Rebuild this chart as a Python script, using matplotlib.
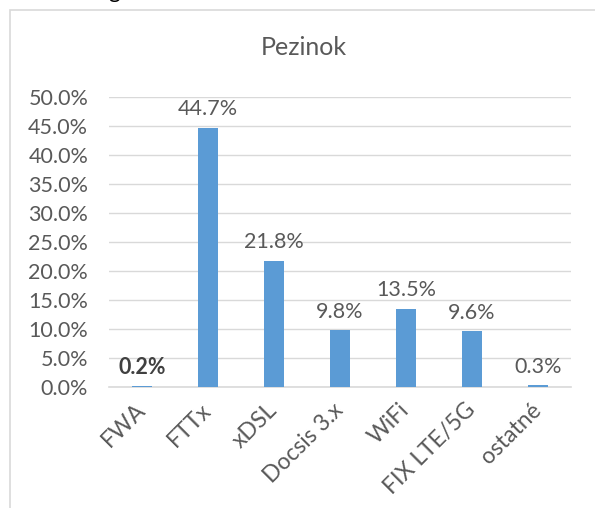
import numpy as np
import matplotlib.pyplot as plt
from matplotlib.patches import Rectangle
from matplotlib.ticker import PercentFormatter, MultipleLocator

plt.rcParams['font.family'] = ['Lato', 'DejaVu Sans']

categories = ['FWA', 'FTTx', 'xDSL', 'Docsis 3.x', 'WiFi', 'FIX LTE/5G', 'ostatné']
shares = [0.2, 44.7, 21.8, 9.8, 13.5, 9.6, 0.3]
labels = ['0.2%', '44.7%', '21.8%', '9.8%', '13.5%', '9.6%', '0.3%']
bold_label = [True, False, False, False, False, False, False]

grey = '#595959'
fig = plt.figure(figsize=(5.95, 5.08), dpi=100)

# outer chart frame (partly cut off at right/bottom)
fig.patches.append(Rectangle((10 / 595, -0.1), 1.2, (508 - 10) / 508 + 0.1,
                             transform=fig.transFigure, fill=False,
                             edgecolor='#d9d9d9', linewidth=1.2))
# fragment of text above the chart, only the descender shows
fig.text(108 / 595, 1 + 1.5 / 508, 'g', fontsize=16, color='black',
         ha='left', va='baseline')

ax = fig.add_axes([109 / 595, 121 / 508, 462 / 595, 290 / 508])
x = np.arange(len(categories))
ax.bar(x, shares, width=0.31, color='#5b9bd5', zorder=3)

for xi, v, lab, b in zip(x, shares, labels, bold_label):
    ax.annotate(lab, (xi, v), xytext=(0, 6), textcoords='offset points',
                ha='center', va='bottom', fontsize=15.5, color='#404040' if b else grey,
                fontweight='bold' if b else 'normal')

ax.set_ylim(0, 50)
ax.set_xlim(-0.5, len(categories) - 0.5)
ax.yaxis.set_major_locator(MultipleLocator(5))
ax.yaxis.set_major_formatter(PercentFormatter(decimals=1))
ax.grid(axis='y', color='#d9d9d9', linewidth=1, zorder=0)
ax.set_xticks(x)
ax.set_xticklabels(categories, rotation=45, ha='right', va='center',
                   rotation_mode='anchor', fontsize=16.5)
ax.tick_params(axis='both', length=0, colors=grey)
ax.tick_params(axis='y', pad=15, labelsize=15.5)
ax.tick_params(axis='x', pad=14)
for s in ['top', 'right', 'left']:
    ax.spines[s].set_visible(False)
ax.spines['bottom'].set_color('#d9d9d9')
ax.spines['bottom'].set_linewidth(1.2)

fig.text(304 / 595, 1 - 47 / 508, 'Pezinok', ha='center', va='center',
         fontsize=18, color=grey)

fig.savefig('out.png', dpi=100)
